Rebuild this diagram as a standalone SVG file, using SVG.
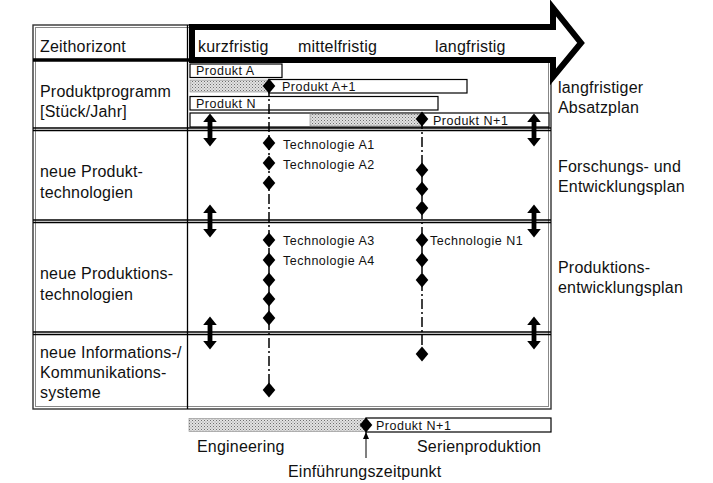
<svg xmlns="http://www.w3.org/2000/svg" width="713" height="483" viewBox="0 0 713 483">
  <defs>
    <pattern id="stipple" width="3" height="3" patternUnits="userSpaceOnUse">
      <rect width="3" height="3" fill="#e2e2e2"/>
      <rect x="0" y="0" width="1" height="1" fill="#6e6e6e"/>
      <rect x="1.5" y="1.5" width="1" height="1" fill="#909090"/>
    </pattern>
    <!-- vertical double-headed arrow, centred on a row boundary -->
    <path id="dblarrow" d="M0,-16.5 L6.8,-8 L2.4,-8 L2.4,8 L6.8,8 L0,16.5 L-6.8,8 L-2.4,8 L-2.4,-8 L-6.8,-8 Z" fill="#000"/>
    <path id="diamond" d="M0,-7.5 L6.3,0 L0,7.5 L-6.3,0 Z" fill="#000"/>
  </defs>
  <style>
    text { font-family: "Liberation Sans", Arial, sans-serif; fill: #111; }
    .lbl { font-size: 16px; letter-spacing: 0.2px; }
    .sm { font-size: 12.5px; letter-spacing: 0.5px; }
    .grid { stroke: #000; stroke-width: 1.3; fill: none; }
    .box { fill: #fff; stroke: #000; stroke-width: 1.2; }
    .bar { fill: url(#stipple); stroke: #888; stroke-width: 0.6; }
    .milestone { stroke: #000; stroke-width: 1.5; stroke-dasharray: 10 3 2 3; fill: none; }
  </style>

  <rect width="713" height="483" fill="#fff"/>

  <!-- table frame -->
  <g id="table">
    <rect x="33" y="25" width="518" height="384" fill="none" stroke="#333" stroke-width="1.4"/>
    <rect x="35.5" y="27.5" width="513" height="379" fill="none" stroke="#888" stroke-width="1"/>
    <line class="grid" x1="187.5" y1="25" x2="187.5" y2="409" stroke-width="1.8"/>
    <line x1="33" y1="60" x2="192" y2="60" stroke="#000" stroke-width="3.5"/>
    <line class="grid" x1="33" y1="128" x2="551" y2="128"/>
    <line class="grid" x1="33" y1="130.5" x2="551" y2="130.5" stroke-width="1"/>
    <line class="grid" x1="33" y1="220" x2="551" y2="220"/>
    <line class="grid" x1="33" y1="222.5" x2="551" y2="222.5" stroke-width="1"/>
    <line class="grid" x1="33" y1="332" x2="551" y2="332"/>
    <line class="grid" x1="33" y1="334.5" x2="551" y2="334.5" stroke-width="1"/>
  </g>

  <!-- time axis arrow -->
  <g id="zeitachse">
    <path d="M192,27 L553,27 L553,8 L581,43 L553,77 L553,60 L192,60 Z" fill="#fff" stroke="#000" stroke-width="6" stroke-linejoin="miter"/>
    <text class="lbl" x="198" y="52">kurzfristig</text>
    <text class="lbl" x="298" y="52">mittelfristig</text>
    <text class="lbl" x="435" y="52">langfristig</text>
  </g>

  <!-- row headings -->
  <g id="zeithorizont"><text class="lbl" x="40" y="52">Zeithorizont</text></g>
  <g id="produktprogramm">
    <text class="lbl" x="40" y="97">Produktprogramm</text>
    <text class="lbl" x="40" y="117">[Stück/Jahr]</text>
  </g>
  <g id="produkttechnologien">
    <text class="lbl" x="40" y="177">neue Produkt-</text>
    <text class="lbl" x="40" y="198">technologien</text>
  </g>
  <g id="produktionstechnologien">
    <text class="lbl" x="40" y="279">neue Produktions-</text>
    <text class="lbl" x="40" y="300">technologien</text>
  </g>
  <g id="iuk-systeme">
    <text class="lbl" x="40" y="358">neue Informations-/</text>
    <text class="lbl" x="40" y="378">Kommunikations-</text>
    <text class="lbl" x="40" y="398">systeme</text>
  </g>

  <!-- plans on the right -->
  <g id="absatzplan">
    <text class="lbl" x="558" y="93">langfristiger</text>
    <text class="lbl" x="558" y="113">Absatzplan</text>
  </g>
  <g id="fe-plan">
    <text class="lbl" x="558" y="172">Forschungs- und</text>
    <text class="lbl" x="558" y="192">Entwicklungsplan</text>
  </g>
  <g id="produktionsplan">
    <text class="lbl" x="558" y="273">Produktions-</text>
    <text class="lbl" x="558" y="293">entwicklungsplan</text>
  </g>

  <!-- product programme bars -->
  <g id="produkt-a">
    <rect class="box" x="190" y="64" width="92" height="13.5"/>
    <text class="sm" x="196" y="75">Produkt A</text>
  </g>
  <g id="produkt-a1">
    <rect class="bar" x="190" y="80" width="79" height="12"/>
    <rect class="box" x="269" y="79.5" width="198" height="13.5"/>
    <text class="sm" x="282" y="91">Produkt A+1</text>
  </g>
  <g id="produkt-n">
    <rect class="box" x="190" y="96.5" width="248" height="13.5"/>
    <text class="sm" x="196" y="107.5">Produkt N</text>
  </g>
  <g id="produkt-n1">
    <rect class="box" x="190" y="113" width="359" height="14"/>
    <rect class="bar" x="310" y="114" width="112" height="12"/>
    <text class="sm" x="433" y="124.5">Produkt N+1</text>
  </g>

  <!-- milestone lines and diamonds -->
  <g id="connectors">
    <line class="milestone" x1="269" y1="86" x2="269" y2="390"/>
    <line class="milestone" x1="422" y1="119" x2="422" y2="354"/>
    <line x1="366" y1="432" x2="366" y2="458" stroke="#000" stroke-width="1"/>
    <path d="M366,432 L363,439 L369,439 Z" fill="#000"/>
  </g>

  <g id="meilensteine-a">
    <use href="#diamond" x="269" y="86"/>
    <use href="#diamond" x="269" y="143"/>
    <use href="#diamond" x="269" y="163"/>
    <use href="#diamond" x="269" y="183"/>
    <use href="#diamond" x="269" y="240"/>
    <use href="#diamond" x="269" y="260"/>
    <use href="#diamond" x="269" y="280"/>
    <use href="#diamond" x="269" y="299"/>
    <use href="#diamond" x="269" y="318"/>
    <use href="#diamond" x="269" y="390"/>
    <text class="sm" x="283" y="149">Technologie A1</text>
    <text class="sm" x="283" y="169">Technologie A2</text>
    <text class="sm" x="283" y="245">Technologie A3</text>
    <text class="sm" x="283" y="265">Technologie A4</text>
  </g>
  <g id="meilensteine-n">
    <use href="#diamond" x="422" y="119"/>
    <use href="#diamond" x="422" y="170"/>
    <use href="#diamond" x="422" y="189"/>
    <use href="#diamond" x="422" y="208"/>
    <use href="#diamond" x="422" y="240"/>
    <use href="#diamond" x="422" y="260"/>
    <use href="#diamond" x="422" y="280"/>
    <use href="#diamond" x="422" y="354"/>
    <text class="sm" x="430" y="245">Technologie N1</text>
  </g>

  <!-- coordination arrows between the plans -->
  <g id="abstimmung">
    <use href="#dblarrow" x="210" y="130"/>
    <use href="#dblarrow" x="534" y="130"/>
    <use href="#dblarrow" x="210" y="221"/>
    <use href="#dblarrow" x="534" y="221"/>
    <use href="#dblarrow" x="210" y="333"/>
    <use href="#dblarrow" x="534" y="333"/>
  </g>

  <!-- engineering / series production bar -->
  <g id="einfuehrung">
    <rect class="bar" x="189" y="418.5" width="177" height="13"/>
    <rect class="box" x="366" y="418" width="185" height="14"/>
    <use href="#diamond" x="366" y="425"/>
    <text class="sm" x="376" y="429.5">Produkt N+1</text>
    <text class="lbl" x="197" y="452">Engineering</text>
    <text class="lbl" x="417" y="452">Serienproduktion</text>
    <text class="lbl" x="288" y="477">Einführungszeitpunkt</text>
  </g>
</svg>
